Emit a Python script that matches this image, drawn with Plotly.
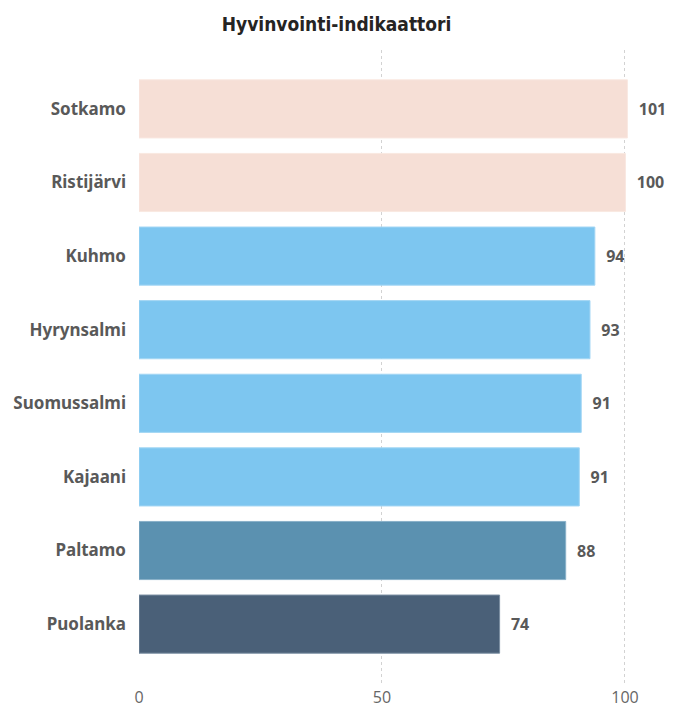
import plotly.graph_objects as go

# Kunnat ja indikaattorin arvot (luettu kuvasta)
kunnat = ["Sotkamo", "Ristijärvi", "Kuhmo", "Hyrynsalmi",
          "Suomussalmi", "Kajaani", "Paltamo", "Puolanka"]
arvot = [100.5, 100.1, 93.8, 92.8, 91.0, 90.6, 87.8, 74.2]
varit = ["#F6DFD6", "#F6DFD6", "#7DC6F0", "#7DC6F0",
         "#7DC6F0", "#7DC6F0", "#5B91B0", "#4A6078"]
reunat = ["#F9E8E1", "#F9E8E1", "#A3D6F4", "#A3D6F4",
          "#A3D6F4", "#A3D6F4", "#88B0C8", "#7A8EA2"]
x_tikit = [0, 50, 100]

fig = go.Figure()

fig.add_trace(go.Bar(
    x=arvot,
    y=kunnat,
    orientation="h",
    marker=dict(color=varit, line=dict(color=reunat, width=1)),
    texttemplate="  %{x:.0f}",
    textposition="outside",
    constraintext="none",
    cliponaxis=False,
    textfont=dict(family="Noto Sans", size=16, color="#595959", weight="bold"),
    hoverinfo="x+y",
))

fig.update_layout(
    width=673,
    height=708,
    margin=dict(l=139, r=14, t=50, b=25),
    paper_bgcolor="white",
    plot_bgcolor="white",
    showlegend=False,
    bargap=0.21,
    title=dict(text="<b>Hyvinvointi-indikaattori</b>", x=0.5, xanchor="center",
               y=0.966, yanchor="middle",
               font=dict(family="DejaVu Sans Condensed", size=19, color="#252423")),
)

fig.update_xaxes(
    range=[0, 107],
    tickvals=x_tikit,
    automargin=False,
    showgrid=True,
    gridcolor="#D2D2D2",
    griddash="dot",
    gridwidth=1,
    zeroline=False,
    showline=False,
    ticklabelstandoff=3,
    tickfont=dict(family="Open Sans", size=16, color="#666666"),
    ticks="",
)

fig.update_yaxes(
    categoryorder="array",
    categoryarray=kunnat,
    range=[7.8, -0.8],
    automargin=False,
    showgrid=False,
    zeroline=False,
    ticks="",
    ticklabelstandoff=12,
    tickfont=dict(family="Noto Sans", size=17, color="#595959", weight="bold"),
)

# sivun oletusmarginaali pois, jotta kuva alkaa vasemmasta yläkulmasta
fig.write_html("out.html", config={"displayModeBar": False},
               post_script="document.body.style.margin='0';")
